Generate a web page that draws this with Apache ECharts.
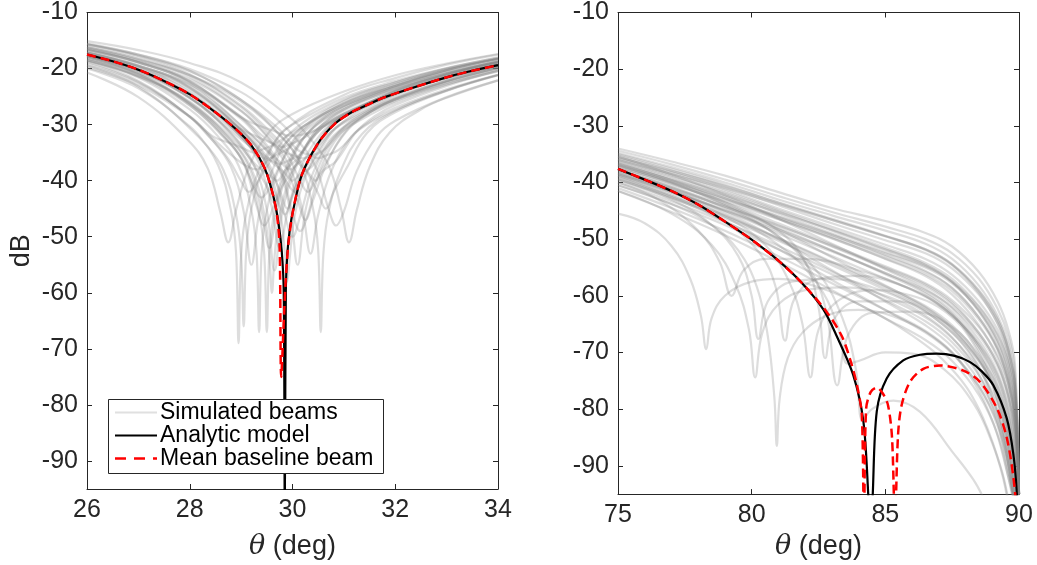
<!DOCTYPE html>
<html>
<head>
<meta charset="utf-8">
<script src="https://cdn.jsdelivr.net/npm/echarts@6/dist/echarts.min.js"></script>
<style>
html,body{margin:0;padding:0;background:#fff;}
#chart{width:1037px;height:565px;}
</style>
</head>
<body>
<div id="chart"></div>
<script>
// ---------- data (theta in deg, level in dB) ----------
const yTickValues = [-10, -20, -30, -40, -50, -60, -70, -80, -90];
const leftXRange = [26, 34, 2];
const rightXRange = [75, 90, 5];
const legendNames = ['Simulated beams', 'Analytic model', 'Mean baseline beam'];

const leftAnalytic = [[26,-17.5],[26.5,-18.7],[27,-20.2],[27.5,-22.2],[28,-24.6],[28.5,-27.8],[28.9,-30.8],[29.2,-33.7],[29.46,-37.8],[29.62,-42.5],[29.72,-47.1],[29.79,-52.5],[29.83,-60],[29.85,-100],[29.87,-60],[29.9,-53],[29.95,-48.5],[30.01,-45.4],[30.18,-39.0],[30.5,-33.3],[30.82,-29.9],[31.15,-27.8],[31.5,-26.3],[31.8,-25.1],[32.45,-23.1],[33.1,-21.3],[33.5,-20.4],[34,-19.4]];

const leftMeanBaseline = [[26,-17.5],[26.5,-18.7],[27,-20.2],[27.5,-22.2],[28,-24.6],[28.5,-27.8],[28.9,-30.8],[29.2,-33.7],[29.46,-37.8],[29.62,-42.5],[29.7,-46.3],[29.75,-52],[29.78,-75],[29.84,-63],[29.87,-57.5],[29.92,-51.3],[30.01,-45.4],[30.18,-39.0],[30.5,-33.3],[30.82,-29.9],[31.15,-27.8],[31.5,-26.3],[31.8,-25.1],[32.45,-23.1],[33.1,-21.3],[33.5,-20.4],[34,-19.4]];

const leftSimulated = [
[[26,-20.7],[27,-25.1],[27.95,-32.6],[28.35,-37.8],[28.6,-45.8],[28.75,-51],[28.9,-45.3],[29.15,-37.6],[29.55,-31.3],[30,-28.1],[31,-24.1],[32,-21.2],[33,-19.1],[34,-17.4]],
[[26,-19.5],[27,-23.2],[28.15,-32.0],[28.55,-37.2],[28.8,-45.2],[28.9,-52.7],[28.95,-69],[29,-53.3],[29.1,-45.8],[29.35,-38.1],[29.75,-31.8],[30,-30.0],[31,-25.2],[32,-22.2],[33,-19.9],[34,-18.1]],
[[26,-20.0],[27,-23.5],[28,-30.3],[28.25,-32.8],[28.65,-38.0],[28.9,-46.0],[29,-53.5],[29.05,-66],[29.1,-52.5],[29.2,-45.0],[29.45,-37.3],[29.85,-31.0],[31,-24.7],[32,-21.7],[33,-19.3],[34,-17.5]],
[[26,-18.8],[27,-22.2],[28,-28.6],[28.35,-31.9],[28.75,-36.1],[29,-40.1],[29.15,-42],[29.3,-40.5],[29.55,-36.8],[29.95,-31.5],[31,-25.6],[32,-22.5],[33,-20.0],[34,-18.2]],
[[26,-19.1],[27,-22.4],[28,-28.6],[28.4,-32.3],[28.8,-37.5],[29.05,-45.5],[29.2,-55],[29.35,-46.0],[29.6,-38.3],[30,-32.0],[31,-26.3],[32,-23.1],[33,-20.6],[34,-18.8]],
[[26,-19.4],[27,-22.6],[28,-28.5],[28.5,-32.9],[28.9,-36.1],[29.15,-37.6],[29.3,-38],[29.45,-37.0],[29.7,-35.0],[30.1,-31.1],[31,-25.8],[32,-22.5],[33,-20.0],[34,-18.0]],
[[26,-18.5],[27,-21.6],[28,-27.3],[28.55,-32.1],[28.95,-37.3],[29.2,-45.3],[29.3,-52.8],[29.35,-67],[29.4,-52.8],[29.5,-45.3],[29.75,-37.6],[30.15,-31.3],[31,-26.2],[32,-22.9],[33,-20.3],[34,-18.3]],
[[26,-17.9],[27,-20.9],[28,-26.3],[28.65,-31.8],[29.05,-37.0],[29.3,-44.5],[29.45,-48],[29.6,-45.4],[29.85,-38.2],[30.25,-31.9],[31,-27.2],[32,-23.8],[33,-21.1],[34,-19.1]],
[[26,-18.5],[27,-21.4],[28,-26.6],[28.7,-32.5],[29.1,-37.7],[29.35,-45.7],[29.45,-53.2],[29.5,-67],[29.55,-53],[29.65,-45.5],[29.9,-37.8],[30.3,-31.5],[31,-27.0],[32,-23.5],[33,-20.8],[34,-18.8]],
[[26,-17.4],[27,-20.2],[28,-25.3],[28.75,-30.7],[29.15,-33.7],[29.4,-35.2],[29.55,-36],[29.7,-35.4],[29.95,-34.0],[30.35,-30.3],[31,-26.7],[32,-23.1],[33,-20.3],[34,-18.3]],
[[26,-18.5],[27,-21.3],[28,-26.2],[28.8,-32.7],[29.2,-37.9],[29.45,-45.9],[29.55,-53.4],[29.6,-60],[29.65,-53.6],[29.75,-46.1],[30,-38.4],[30.4,-32.1],[31,-28.1],[32,-24.4],[33,-21.6],[34,-19.6]],
[[26,-17.8],[27,-20.5],[28,-25.2],[28.85,-32.1],[29.25,-37.3],[29.5,-41],[29.65,-44],[29.8,-41],[30.05,-37.5],[30.45,-31.2],[31,-27.5],[32,-23.7],[33,-20.9],[34,-18.8]],
[[26,-18.7],[27,-21.4],[28,-25.9],[28.9,-33.1],[29.3,-37.3],[29.55,-39.0],[29.7,-40],[29.85,-38.2],[30.1,-36.0],[30.5,-30.7],[31,-27.3],[32,-23.3],[33,-20.5],[34,-18.4]],
[[26,-17.2],[27,-19.8],[28,-24.2],[28.95,-31.7],[29.35,-36.9],[29.6,-44.9],[29.75,-52],[29.9,-45.7],[30.15,-38.0],[30.55,-31.7],[31,-28.5],[32,-24.5],[33,-21.6],[34,-19.5]],
[[26,-17.6],[27,-20.2],[28,-24.5],[29,-30.8],[29.4,-32.5],[29.65,-33.5],[29.8,-34],[29.95,-33.5],[30.2,-32.5],[30.6,-30.0],[31,-28.0],[32,-24.4],[33,-21.5],[34,-19.3]],
[[26,-17.8],[27,-20.4],[28,-24.5],[29.05,-32.6],[29.45,-37.8],[29.7,-43.2],[29.85,-46],[30,-42.6],[30.25,-37.3],[30.65,-31.0],[31,-28.3],[32,-24.1],[33,-21.1],[34,-18.9]],
[[26,-17.1],[27,-19.6],[28,-23.5],[29.1,-32.0],[29.5,-37.2],[29.75,-45.2],[29.85,-52.7],[29.9,-58],[29.95,-53.4],[30.05,-45.9],[30.3,-38.2],[30.7,-31.9],[31,-29.7],[32,-25.1],[33,-22.2],[34,-19.9]],
[[26,-16.4],[27,-18.9],[28,-22.6],[29.15,-31.4],[29.55,-35.0],[29.8,-37.0],[29.95,-38],[30.1,-37.0],[30.35,-35.3],[30.75,-31.3],[31,-29.5],[32,-24.7],[33,-21.7],[34,-19.4]],
[[26,-17.8],[27,-20.2],[28,-23.8],[29.2,-32.9],[29.6,-38.1],[29.85,-46.1],[30,-50],[30.15,-46.3],[30.4,-38.6],[30.8,-32.3],[31.4,-28.3],[32,-25.8],[33,-22.8],[34,-20.5]],
[[26,-17.1],[27,-19.5],[28,-23.0],[29.25,-32.3],[29.65,-36.5],[29.9,-40.5],[30.05,-42],[30.2,-39.6],[30.45,-35.9],[30.85,-30.6],[31.5,-26.4],[32,-24.3],[33,-21.3],[34,-18.9]],
[[26,-16.6],[27,-18.9],[28,-22.4],[29,-29.0],[29.3,-31.9],[29.7,-37.1],[29.95,-45.1],[30.1,-55],[30.25,-45.4],[30.5,-37.7],[30.9,-31.4],[31.5,-27.4],[32,-25.3],[33,-22.2],[34,-19.9]],
[[26,-17.2],[27,-19.5],[28,-22.8],[29,-28.6],[29.4,-31.9],[29.8,-34.7],[30.05,-35.6],[30.2,-36],[30.35,-35.6],[30.6,-34.6],[31,-31.0],[31.5,-28.3],[32,-26.1],[33,-22.9],[34,-20.4]],
[[26,-16.1],[27,-18.3],[28,-21.5],[29,-27.5],[29.45,-31.6],[29.85,-36.8],[30.1,-43.5],[30.25,-47],[30.4,-43.5],[30.65,-37.3],[31.05,-31.0],[31.5,-27.8],[32,-25.5],[33,-22.3],[34,-19.8]],
[[26,-16.7],[27,-18.8],[28,-21.9],[29,-27.6],[29.55,-32.4],[29.95,-37.6],[30.2,-45.6],[30.35,-53],[30.5,-46.1],[30.75,-38.4],[31.15,-32.1],[31.6,-28.9],[32,-27.0],[33,-23.7],[34,-21.1]],
[[26,-16.2],[27,-18.2],[28,-21.2],[29,-26.6],[29.65,-32.1],[30.05,-36.3],[30.3,-38.5],[30.45,-40],[30.6,-38.2],[30.85,-36.5],[31.25,-31.2],[31.6,-28.5],[32,-26.5],[33,-23.1],[34,-20.4]],
[[26,-15.7],[27,-17.7],[28,-20.5],[29,-25.6],[29.75,-31.8],[30.15,-37.0],[30.4,-45.0],[30.5,-52.5],[30.55,-67],[30.6,-53.2],[30.7,-45.7],[30.95,-38.0],[31.35,-31.7],[32,-27.5],[33,-23.9],[34,-21.1]],
[[26,-16.5],[27,-18.5],[28,-21.2],[29,-25.9],[29.85,-32.8],[30.25,-38.0],[30.5,-42.3],[30.65,-45],[30.8,-42],[31.05,-37.8],[31.45,-31.5],[32,-27.8],[33,-24.0],[34,-21.2]],
[[26,-15.7],[27,-17.5],[28,-20.1],[29,-24.2],[29.5,-27.5],[30.05,-32.3],[30.45,-37.5],[30.7,-45],[30.85,-48],[31,-45.5],[31.25,-38.3],[31.65,-32.0],[32,-29.3],[33,-25.1],[34,-22.1]],
[[26,-15.1],[27,-16.7],[28,-19.0],[29,-22.5],[30,-29.1],[30.3,-32.0],[30.7,-37.2],[30.95,-45.2],[31.1,-51],[31.25,-45.3],[31.5,-37.6],[31.9,-31.3],[32.5,-27.3],[33,-25.2],[34,-22.1]],
[[26,-16.2],[27,-18.6],[28,-22.2],[29,-28.7],[29.6,-31.0],[30,-32],[30.4,-31.2],[31,-28.3],[32,-24.0],[33,-21.0],[34,-18.7]],
[[26,-18.0],[27,-21.0],[28,-26.5],[28.6,-31.7],[29,-35.9],[29.25,-41.2],[29.4,-43],[29.55,-41.3],[29.8,-36.4],[30.2,-31.1],[31,-26.2],[32,-22.8],[33,-20.2],[34,-18.2]],
[[26,-18.2],[27,-21.0],[28,-26.1],[28.75,-32.3],[29.15,-37.5],[29.4,-45.5],[29.55,-52],[29.7,-44.9],[29.95,-37.2],[30.35,-30.9],[31,-26.7],[32,-23.1],[33,-20.3],[34,-18.3]],
[[26,-18.2],[27,-20.8],[28,-25.2],[28.95,-31.7],[29.35,-35.5],[29.6,-36.5],[29.75,-37],[29.9,-36.5],[30.15,-35.3],[30.55,-30.8],[31,-28.6],[32,-24.6],[33,-21.7],[34,-19.6]],
[[26,-16.9],[27,-19.4],[28,-23.3],[29.1,-31.8],[29.5,-37.0],[29.75,-41.7],[29.9,-45],[30.05,-41.4],[30.3,-37.0],[30.7,-30.7],[31,-28.5],[32,-23.9],[33,-21.0],[34,-18.7]],
[[26,-17.4],[27,-19.8],[28,-23.4],[29.2,-32.5],[29.6,-36.7],[29.85,-38.6],[30,-40],[30.15,-38.8],[30.4,-37.3],[30.8,-32.0],[31.4,-28.0],[32,-25.5],[33,-22.5],[34,-20.2]],
[[26,-16.6],[27,-18.9],[28,-22.3],[29,-28.7],[29.35,-32.0],[29.75,-37.2],[30,-45.7],[30.15,-49],[30.3,-46],[30.55,-37.8],[30.95,-31.5],[31.5,-27.8],[32,-25.6],[33,-22.5],[34,-20.0]],
[[26,-15.7],[27,-17.8],[28,-21.0],[29,-26.9],[29.5,-31.3],[29.9,-35.5],[30.15,-40],[30.3,-42],[30.45,-40],[30.7,-36.0],[31.1,-30.7],[31.6,-27.3],[32,-25.4],[33,-22.1],[34,-19.6]],
[[26,-19.8],[27,-23.0],[28,-28.6],[28.45,-32.1],[28.85,-33.5],[29.1,-34.5],[29.25,-35],[29.4,-34.5],[29.65,-33.5],[30.05,-31.1],[31,-26.6],[32,-23.4],[33,-20.9],[34,-19.0]],
[[26,-15.5],[27,-17.5],[28,-20.4],[29,-25.6],[29.7,-30.5],[30.1,-34.5],[30.35,-35.5],[30.5,-36],[30.65,-35.5],[30.9,-34.5],[31.3,-30.9],[32,-27.4],[33,-23.9],[34,-21.2]],
[[26,-17.7],[27,-20.4],[28,-25.1],[28.85,-32.0],[29.25,-37.2],[29.5,-45.2],[29.65,-56],[29.8,-45.7],[30.05,-38.0],[30.45,-31.7],[31,-28.0],[32,-24.2],[33,-21.4],[34,-19.3]]
];

const rightAnalytic = [[75,-37.6],[76,-39.5],[77,-41.5],[78,-43.9],[79,-46.9],[80,-50.1],[81,-53.8],[81.87,-57.7],[82.68,-62.4],[83.18,-67.1],[83.8,-74.0],[84.18,-82.2],[84.36,-95],[84.45,-105],[84.53,-95],[84.68,-80.4],[85.05,-74.6],[85.67,-71.4],[86.3,-70.4],[86.92,-70.2],[87.6,-70.6],[88.17,-71.7],[88.6,-73.3],[89.04,-75.8],[89.54,-81.6],[89.79,-88],[89.92,-95],[90,-105]];

const rightMeanBaseline = [[75,-37.6],[76,-39.5],[77,-41.5],[78,-43.9],[79,-46.9],[80,-50.1],[81,-53.8],[81.87,-57.7],[82.8,-62.8],[83.37,-67.1],[83.7,-71.5],[83.95,-76.0],[84.12,-81],[84.2,-100],[84.28,-80],[84.45,-77],[84.68,-76.2],[84.9,-77.2],[85.1,-79.3],[85.25,-85],[85.36,-100],[85.47,-85],[85.6,-79.5],[85.92,-75.2],[86.42,-72.9],[87.05,-72.3],[87.92,-73.2],[88.54,-75.2],[89.17,-79.8],[89.54,-85],[89.79,-92],[89.95,-100]];

const rightSimulated = [
[[75,-34.0],[77,-36.3],[79,-38.8],[81,-41.7],[83,-44.5],[85,-46.8],[86.5,-48.9],[87.5,-51.3],[88.5,-55.8],[89.2,-61.0],[89.6,-66.0],[89.85,-72],[90,-95]],
[[75,-34.8],[77,-37.3],[79,-40.0],[81,-43.0],[83,-45.8],[85,-48.5],[86.5,-50.8],[87.5,-53.5],[88.5,-58.2],[89.2,-63.5],[89.6,-68.5],[89.85,-75],[90,-95]],
[[75,-35.5],[77,-38.2],[79,-41.2],[81,-44.6],[83,-47.8],[85,-51.0],[86.5,-53.5],[87.5,-56.3],[88.5,-61.0],[89.2,-66.0],[89.6,-71.0],[89.85,-77],[90,-95]],
[[75,-36.0],[77,-38.5],[79,-41.0],[81,-43.8],[83,-46.6],[85,-49.5],[86.5,-51.8],[87.5,-54.5],[88.5,-59.5],[89.2,-65.0],[89.6,-70.5],[89.85,-78],[90,-95]],
[[75,-36.4],[77,-39.3],[79,-42.5],[81,-46.0],[83,-49.3],[85,-52.5],[86.5,-55.0],[87.5,-57.8],[88.5,-62.5],[89.2,-67.8],[89.6,-73.0],[89.85,-80],[90,-95]],
[[75,-36.8],[77,-39.5],[79,-42.3],[81,-45.3],[83,-48.4],[85,-51.8],[86.5,-54.5],[87.5,-57.5],[88.5,-62.8],[89.2,-68.5],[89.6,-74.0],[89.85,-81],[90,-95]],
[[75,-37.2],[77,-40.2],[79,-43.5],[81,-47.2],[83,-51.0],[85,-54.8],[86.5,-57.8],[87.5,-60.8],[88.5,-65.5],[89.2,-70.5],[89.6,-75.5],[89.85,-82],[90,-95]],
[[75,-37.5],[77,-40.4],[79,-43.3],[81,-46.5],[83,-49.8],[85,-53.5],[86.5,-56.5],[87.5,-59.8],[88.5,-65.2],[89.2,-71.0],[89.6,-76.5],[89.85,-83],[90,-95]],
[[75,-38.0],[77,-41.0],[79,-44.3],[81,-48.0],[83,-52.0],[85,-56.0],[86.5,-59.0],[87.5,-62.0],[88.5,-67.0],[89.2,-72.5],[89.6,-78.0],[89.85,-85],[90,-95]],
[[75,-38.3],[77,-41.5],[79,-45.0],[81,-49.0],[83,-53.0],[85,-57.0],[86.5,-60.0],[87.5,-63.5],[88.5,-68.5],[89.2,-74.0],[89.6,-80.0],[89.85,-87],[90,-95]],
[[75,-38.8],[77,-41.8],[79,-45.0],[81,-48.6],[83,-52.2],[85,-56.0],[86.5,-59.3],[87.5,-62.8],[88.5,-68.5],[89.2,-74.5],[89.6,-81.0],[89.85,-88],[90,-95]],
[[75,-39.2],[77,-42.3],[79,-45.8],[81,-49.8],[83,-54.0],[85,-58.3],[86.5,-61.8],[87.5,-65.2],[88.5,-70.5],[89.2,-76.0],[89.6,-82.5],[89.85,-89],[90,-95]],
[[75,-39.6],[77,-42.8],[79,-46.3],[81,-50.3],[83,-54.6],[85,-59.0],[86.5,-62.5],[87.5,-66.0],[88.5,-71.5],[89.2,-77.5],[89.6,-84.0],[89.85,-91],[90,-95]],
[[75,-40.0],[77,-43.3],[79,-47.0],[81,-51.2],[83,-55.7],[85,-60.2],[86.5,-63.8],[87.5,-67.5],[88.5,-73.0],[89.2,-79.0],[89.6,-86.0],[89.85,-93],[90,-95]],
[[75,-40.5],[77,-43.8],[79,-47.5],[81,-51.8],[83,-56.2],[85,-60.8],[86.5,-64.5],[87.5,-68.2],[88.5,-74.0],[89.2,-80.5],[89.6,-88.0],[89.85,-95],[90,-97]],
[[75,-41.0],[77,-44.5],[79,-48.5],[81,-53.0],[83,-57.8],[85,-62.5],[86.5,-66.2],[87.5,-70.0],[88.5,-76.0],[89.2,-83.0],[89.6,-91.0],[89.85,-97],[90,-99]],
[[75,-35.2],[77,-37.9],[79,-40.8],[81,-44.0],[83,-47.2],[85,-50.2],[86.5,-52.5],[87.5,-55.2],[88.5,-59.8],[89.2,-64.8],[89.6,-69.8],[89.85,-76],[90,-95]],
[[75,-37.0],[77,-39.8],[79,-42.8],[81,-46.2],[83,-49.6],[85,-53.0],[86.5,-55.8],[87.5,-58.7],[88.5,-63.8],[89.2,-69.2],[89.6,-74.8],[89.85,-81.5],[90,-95]],
[[75,-38.5],[77,-41.2],[79,-44.3],[81,-47.6],[83,-51.2],[85,-55.0],[86.5,-58.0],[87.5,-61.2],[88.5,-66.5],[89.2,-72.0],[89.6,-77.5],[89.85,-84],[90,-95]],
[[75,-36.2],[77,-39.0],[79,-42.0],[81,-45.5],[83,-49.0],[85,-52.3],[86.5,-54.8],[87.5,-57.5],[88.5,-62.0],[89.2,-67.0],[89.6,-72.0],[89.85,-79],[90,-95]],
[[75,-34.4],[77,-36.8],[79,-39.5],[81,-42.4],[83,-45.2],[85,-47.8],[86.5,-50.0],[87.5,-52.5],[88.5,-57.0],[89.2,-62.3],[89.6,-67.2],[89.85,-73.5],[90,-95]],
[[75,-35.0],[77,-37.6],[79,-40.4],[81,-43.6],[83,-46.6],[85,-49.5],[86.5,-51.9],[87.5,-54.6],[88.5,-59.2],[89.2,-64.2],[89.6,-69.3],[89.85,-75.5],[90,-95]],
[[75,-35.8],[77,-38.5],[79,-41.5],[81,-44.9],[83,-48.2],[85,-51.5],[86.5,-54.2],[87.5,-57.0],[88.5,-61.8],[89.2,-66.8],[89.6,-71.8],[89.85,-78.5],[90,-95]],
[[75,-36.6],[77,-39.6],[79,-42.8],[81,-46.4],[83,-49.9],[85,-53.4],[86.5,-56.2],[87.5,-59.2],[88.5,-64.2],[89.2,-69.5],[89.6,-75.0],[89.85,-82],[90,-95]],
[[75,-37.8],[77,-40.8],[79,-44.0],[81,-47.6],[83,-51.3],[85,-55.2],[86.5,-58.3],[87.5,-61.5],[88.5,-66.6],[89.2,-72.0],[89.6,-77.8],[89.85,-84.5],[90,-95]],
[[75,-38.6],[77,-41.6],[79,-44.8],[81,-48.3],[83,-52.0],[85,-56.2],[86.5,-59.6],[87.5,-63.2],[88.5,-69.0],[89.2,-75.0],[89.6,-81.5],[89.85,-88.5],[90,-95]],
[[75,-39.4],[77,-42.6],[79,-46.0],[81,-49.9],[83,-54.2],[85,-58.6],[86.5,-62.2],[87.5,-65.8],[88.5,-71.5],[89.2,-77.5],[89.6,-84.5],[89.85,-92],[90,-96]],
[[75,-35.6],[77,-38.0],[79,-40.6],[81,-43.5],[83,-46.4],[85,-49.4],[86.5,-51.8],[87.5,-54.4],[88.5,-59.0],[89.2,-64.2],[89.6,-69.5],[89.85,-76],[90,-95]],
[[75,-37.4],[77,-40.0],[79,-43.0],[81,-46.0],[83,-49.2],[85,-52.8],[86.5,-55.6],[87.5,-58.6],[88.5,-63.8],[89.2,-69.5],[89.6,-75.5],[89.85,-82.5],[90,-95]],
[[75,-36.0],[77,-38.8],[79,-41.8],[81,-45.1],[83,-48.5],[85,-51.9],[86.5,-54.6],[87.5,-57.6],[88.5,-62.6],[89.2,-68.0],[89.6,-73.5],[89.85,-80.5],[90,-95]],
[[75,-41.5],[77,-45.2],[79,-49.3],[81,-54.0],[83,-59.0],[85,-64.0],[86.5,-67.8],[87.5,-71.5],[88.5,-77.5],[89.2,-84.5],[89.6,-92],[89.85,-98]],
[[75,-39.0],[77,-42.6],[79,-46.8],[81,-51.8],[83,-57.2],[85,-62.5],[86.5,-66.5],[87.5,-70.2],[88.5,-76.0],[89.2,-82.5],[89.6,-89.5],[89.85,-97]],
[[75,-37.8],[77,-41.2],[79,-45.2],[81,-50.0],[83,-55.5],[85,-61.0],[86.5,-65.2],[87.5,-69.0],[88.5,-75.0],[89.2,-81.5],[89.6,-88.5],[89.85,-96]],
[[75,-36.9],[77,-40.0],[79,-43.8],[81,-48.2],[83,-53.2],[85,-58.2],[86.5,-62.0],[87.5,-65.6],[88.5,-71.2],[89.2,-77.0],[89.6,-83.5],[89.85,-91],[90,-96]],
[[75,-35.4],[77,-38.6],[79,-42.2],[81,-46.4],[83,-50.8],[85,-55.3],[86.5,-58.8],[87.5,-62.2],[88.5,-67.8],[89.2,-73.6],[89.6,-79.5],[89.85,-86],[90,-95]],
[[75,-45.5],[76,-47.2],[77,-51.2],[77.7,-57],[78.1,-63.5],[78.3,-69.4],[78.5,-64],[79,-60],[80,-57.5],[81,-57],[82.5,-58.5],[84,-61.5],[86,-67],[87.5,-73],[88.5,-80],[89.3,-90],[89.6,-96]],
[[75,-40.5],[77,-43.8],[78.5,-47.5],[79.5,-52],[80.2,-58.5],[80.6,-67],[80.85,-78],[80.94,-86.5],[81.05,-78],[81.35,-71],[81.9,-66.5],[82.8,-63.5],[84,-62.5],[85.5,-64],[87,-68],[88,-73],[89,-82],[89.6,-92],[89.8,-96]],
[[75,-41.5],[77,-45.5],[78.5,-51],[79.4,-58],[79.9,-66],[80.13,-74.4],[80.4,-66.5],[81,-61.5],[82,-59],[83.5,-58.5],[85,-60],[86.5,-63.5],[87.8,-69],[88.8,-77],[89.5,-88],[89.8,-96]],
[[75,-38.5],[77,-41.8],[79,-46],[80.5,-51],[81.4,-57.5],[81.9,-65],[82.2,-74.4],[82.5,-66],[83.2,-61],[84.5,-59],[86,-60],[87.3,-63],[88.3,-68.5],[89.1,-77],[89.6,-87],[89.9,-96]],
[[75,-37.8],[77,-40.8],[79,-44.5],[81,-49.5],[82.2,-55.5],[82.8,-63],[83.2,-75.8],[83.6,-67],[84.5,-63],[86,-62.8],[87.5,-65.5],[88.5,-71],[89.3,-80],[89.7,-90],[89.9,-97]],
[[75,-39.5],[77,-43],[78.5,-47.5],[79.5,-53],[80,-60],[80.25,-67.6],[80.6,-61],[81.5,-57.5],[83,-57],[84.5,-58.5],[86,-61.5],[87.5,-66.5],[88.5,-72.5],[89.3,-82],[89.7,-93],[89.85,-97]],
[[75,-40],[76.5,-43],[78,-48.5],[78.8,-54],[79.25,-60],[79.7,-55.5],[80.5,-53.5],[82,-53.5],[84,-55.5],[86,-59],[87.5,-63.5],[88.5,-69],[89.3,-77.5],[89.7,-87],[90,-96]],
[[75,-38.8],[77,-42.3],[79,-47],[80.3,-52.5],[80.9,-58.5],[81.25,-67.9],[81.6,-60.5],[82.5,-57],[84,-56.5],[85.5,-58],[87,-61.5],[88,-66],[89,-74.5],[89.5,-83],[89.8,-93],[89.95,-97]],
[[75,-37],[77,-40],[79,-44],[81,-49.5],[82.5,-56],[83.4,-64],[83.9,-73],[84.15,-82],[84.5,-80],[85.3,-78.5],[86.3,-80.5],[87.5,-87.5],[88.3,-92.5],[88.7,-96]],
[[75,-38.2],[77,-41.4],[79,-45.6],[81,-51],[82.4,-57.5],[83.2,-65],[83.6,-72],[84,-71.5],[85,-70],[86,-70.2],[87.2,-73],[88.3,-79],[89,-86],[89.4,-92],[89.6,-97]],
[[75,-36.6],[77,-39.6],[79,-43.5],[81,-48.5],[82,-54],[82.5,-62],[82.75,-71],[83.1,-64],[84,-61],[85.5,-61],[87,-64.5],[88.2,-70.5],[89,-78],[89.5,-87],[89.85,-97]]
];

// ---------- styling ----------
const AX = '#262626';
const FONT = '"Liberation Sans", Arial, Helvetica, sans-serif';
const GRAY = 'rgba(128,128,128,0.27)';

const grids = [
  {left: 87, top: 12, width: 411, height: 482},
  {left: 618, top: 10, width: 401, height: 487}
];

function xAxes(gi, range, nameGap) {
  const common = {
    gridIndex: gi, type: 'value', min: range[0], max: range[1], interval: range[2],
    axisLine: {show: true, onZero: false, lineStyle: {color: AX, width: 1}},
    axisTick: {show: true, inside: true, length: 5, lineStyle: {color: AX, width: 1}},
    splitLine: {show: false}
  };
  return [
    Object.assign({}, common, {
      position: 'bottom',
      axisLabel: {show: true, fontSize: 25, color: AX, fontFamily: FONT, margin: 9, showMinLabel: true, showMaxLabel: true},
      name: '{i|θ} (deg)', nameLocation: 'middle', nameGap: nameGap,
      nameTextStyle: {fontSize: 27, color: AX, fontFamily: FONT,
        rich: {i: {fontSize: 27, fontStyle: 'italic', fontFamily: '"DejaVu Serif", "Liberation Serif", serif', color: AX}}}
    }),
    Object.assign({}, common, {position: 'top', axisLabel: {show: false}})
  ];
}

function yAxes(gi, withName) {
  const common = {
    gridIndex: gi, type: 'value', min: -95, max: -10,
    axisLine: {show: true, onZero: false, lineStyle: {color: AX, width: 1}},
    axisTick: {show: true, inside: true, length: 5, customValues: yTickValues, lineStyle: {color: AX, width: 1}},
    splitLine: {show: false}
  };
  const left = Object.assign({}, common, {
    position: 'left',
    axisLabel: {show: true, customValues: yTickValues, fontSize: 25, color: AX, fontFamily: FONT, margin: 9}
  });
  if (withName) {
    Object.assign(left, {name: 'dB', nameLocation: 'middle', nameGap: 52, nameRotate: 90,
      nameTextStyle: {fontSize: 27, color: AX, fontFamily: FONT}});
  }
  return [left, Object.assign({}, common, {position: 'right', axisLabel: {show: false}})];
}

const series = [];
function addPanel(gi, sims, analytic, mean) {
  const xi = gi * 2, yi = gi * 2;
  sims.forEach(function (c) {
    series.push({type: 'line', name: legendNames[0], xAxisIndex: xi, yAxisIndex: yi, data: c,
      symbol: 'none', smooth: 0.4, z: 2, silent: true,
      lineStyle: {color: GRAY, width: 2.2}, itemStyle: {color: GRAY}});
  });
  series.push({type: 'line', name: legendNames[1], xAxisIndex: xi, yAxisIndex: yi, data: analytic,
    symbol: 'none', smooth: 0.3, z: 3, silent: true,
    lineStyle: {color: '#000', width: 2.2}, itemStyle: {color: '#000'}});
  series.push({type: 'line', name: legendNames[2], xAxisIndex: xi, yAxisIndex: yi, data: mean,
    symbol: 'none', smooth: 0.3, z: 4, silent: true,
    lineStyle: {color: '#ff0000', width: 2.5, type: [9, 5]}, itemStyle: {color: '#ff0000'}});
}
addPanel(0, leftSimulated, leftAnalytic, leftMeanBaseline);
addPanel(1, rightSimulated, rightAnalytic, rightMeanBaseline);

// legend drawn as graphic elements (box, line samples, labels)
const LG = {x: 108, y: 399, w: 275, h: 74, rowY: [412.5, 435.5, 458.5], lineX: [115, 157], textX: 160};
const legendStyles = [
  {stroke: '#e0e0e0', lineWidth: 2.2},
  {stroke: '#000000', lineWidth: 2.2},
  {stroke: '#ff0000', lineWidth: 2.5, lineDash: [11, 8]}
];
const legendGraphics = [{
  type: 'rect', z: 100, silent: true,
  shape: {x: LG.x + 0.5, y: LG.y + 0.5, width: LG.w, height: LG.h},
  style: {fill: '#fff', stroke: AX, lineWidth: 1}
}];
legendNames.forEach(function (nm, i) {
  legendGraphics.push({type: 'line', z: 101, silent: true,
    shape: {x1: LG.lineX[0], y1: LG.rowY[i], x2: LG.lineX[1], y2: LG.rowY[i]},
    style: legendStyles[i]});
  legendGraphics.push({type: 'text', z: 101, silent: true, x: LG.textX, y: LG.rowY[i],
    style: {text: nm, fill: '#000', font: '23px ' + FONT, textVerticalAlign: 'middle', verticalAlign: 'middle'}});
});

const chart = echarts.init(document.getElementById('chart'), null, {renderer: 'canvas'});
chart.setOption({
  animation: false,
  backgroundColor: '#fff',
  grid: grids,
  xAxis: xAxes(0, leftXRange, 44).concat(xAxes(1, rightXRange, 35)),
  yAxis: yAxes(0, true).concat(yAxes(1, false)),
  graphic: legendGraphics,
  series: series
});
</script>
</body>
</html>
